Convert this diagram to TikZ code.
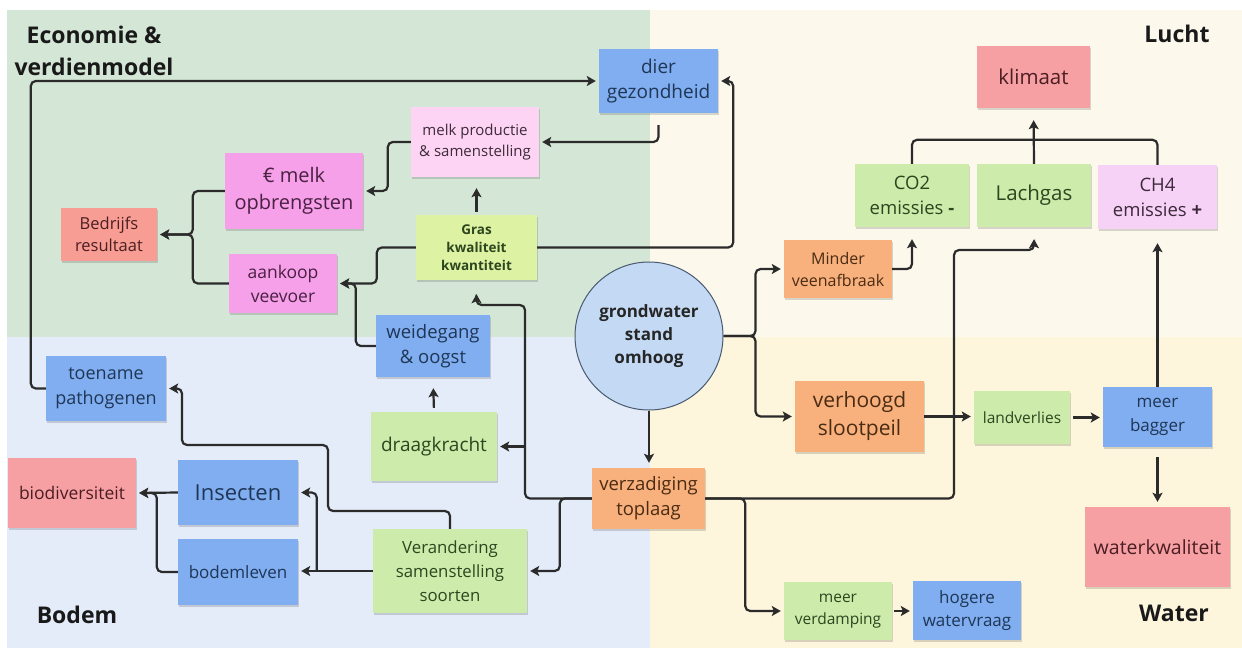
\documentclass[tikz,border=0pt]{standalone}
\usepackage{fontspec}
\setmainfont{Open Sans}
\usetikzlibrary{arrows.meta,shadows,calc}
\definecolor{bggreen}{HTML}{D4E7D6}
\definecolor{bgblue}{HTML}{E3ECF8}
\definecolor{bglucht}{HTML}{FCF9EC}
\definecolor{bgwater}{HTML}{FDF5DC}
\definecolor{cblue}{HTML}{80AEF0}
\definecolor{tblue}{HTML}{1F3656}
\definecolor{cgreen}{HTML}{CDEBAA}
\definecolor{cgras}{HTML}{DDF3A3}
\definecolor{tgreen}{HTML}{2E4620}
\definecolor{cpink}{HTML}{F5A0E8}
\definecolor{tpink}{HTML}{4A2043}
\definecolor{clpink}{HTML}{FDD4F3}
\definecolor{tlpink}{HTML}{3D2A3A}
\definecolor{cred}{HTML}{F7A0A4}
\definecolor{tred}{HTML}{4A1E22}
\definecolor{corange}{HTML}{F8B07C}
\definecolor{torange}{HTML}{4A2C14}
\definecolor{cpurple}{HTML}{F6D2F7}
\definecolor{ccircle}{HTML}{C4D9F4}
\definecolor{ccircled}{HTML}{4A5A70}
\definecolor{cline}{HTML}{2B2B2B}
\tikzset{
  nbox/.style={inner sep=0pt, align=center, drop shadow={shadow xshift=1pt, shadow yshift=-1.5pt, opacity=0.15, fill=black}},
  bluebox/.style={nbox, fill=cblue, text=tblue},
  greenbox/.style={nbox, fill=cgreen, text=tgreen},
  grasbox/.style={nbox, fill=cgras, text=tgreen, font=\bfseries\fontsize{13.5}{18}\selectfont},
  pinkbox/.style={nbox, fill=cpink, text=tpink},
  lpinkbox/.style={nbox, fill=clpink, text=tlpink},
  redbox/.style={nbox, fill=cred, text=tred},
  orangebox/.style={nbox, fill=corange, text=torange},
  purplebox/.style={nbox, fill=cpurple, text=tlpink},
  conn/.style={draw=cline, line width=2.2pt, rounded corners=5pt, -{Stealth[length=9pt,width=10pt,inset=2pt]}, shorten >=3pt},
  plain/.style={draw=cline, line width=2.2pt, rounded corners=5pt},
  title/.style={font=\bfseries\fontsize{23}{32}\selectfont, text=black!90, align=center}
}
\begin{document}
\begin{tikzpicture}[x=1pt,y=-1pt]
\useasboundingbox (0,0) rectangle (1242,648);
\fill[white] (0,0) rectangle (1242,648);
\fill[bggreen] (7,10) rectangle (650,337);
\fill[bgblue] (7,337) rectangle (650,648);
\fill[bglucht] (650,10) rectangle (1242,337);
\fill[bgwater] (650,337) rectangle (1242,648);

% titles
\node[title] (tEco) at (94,51) {Economie \&\\verdienmodel};
\node[title, anchor=base] (tLucht) at (1177,42) {Lucht};
\node[title, anchor=base] (tBodem) at (77,623) {Bodem};
\node[title, anchor=base] (tWater) at (1174,621) {Water};

% nodes
\node[bluebox, minimum width=119, minimum height=64, font=\fontsize{19}{25}\selectfont] (dier) at (658.5,81) {dier\\gezondheid};
\node[lpinkbox, minimum width=128, minimum height=70, font=\fontsize{15}{21}\selectfont] (melkprod) at (475,142) {melk productie\\\& samenstelling};
\node[pinkbox, minimum width=138, minimum height=76, font=\fontsize{20}{27}\selectfont] (eurmelk) at (294,191) {€ melk\\opbrengsten};
\node[redbox, fill=cred!90!orange, minimum width=96, minimum height=53, font=\fontsize{16.5}{22}\selectfont] (bedrijfs) at (109,234.5) {Bedrijfs\\resultaat};
\node[pinkbox, minimum width=108, minimum height=59, font=\fontsize{17.5}{24}\selectfont] (aankoop) at (283,283.5) {aankoop\\veevoer};
\node[grasbox, minimum width=121, minimum height=65] (gras) at (476.5,247.5) {Gras\\kwaliteit\\kwantiteit};
\node[bluebox, minimum width=114, minimum height=62, font=\fontsize{18.5}{25}\selectfont] (weidegang) at (433,346) {weidegang\\\& oogst};
\node[circle, draw=ccircled, line width=1pt, fill=ccircle, minimum size=148, inner sep=0pt, align=center, text=black!85, font=\bfseries\fontsize{17}{23}\selectfont] (grondwater) at (649,336) {grondwater\\stand\\omhoog};
\node[orangebox, minimum width=108, minimum height=58, font=\fontsize{16}{22}\selectfont] (minder) at (838,269) {Minder\\veenafbraak};
\node[orangebox, minimum width=129, minimum height=71, font=\fontsize{21}{28}\selectfont] (verhoogd) at (859.5,416.5) {verhoogd\\slootpeil};
\node[redbox, minimum width=113, minimum height=62, font=\fontsize{20.5}{27}\selectfont] (klimaat) at (1033.5,77) {klimaat};
\node[greenbox, minimum width=114, minimum height=63, font=\fontsize{18.5}{25}\selectfont] (co2) at (912,195.5) {CO2\\emissies \textbf{-}};
\node[greenbox, minimum width=114, minimum height=63, font=\fontsize{20.5}{27}\selectfont] (lachgas) at (1034,195.5) {Lachgas};
\node[purplebox, minimum width=119, minimum height=64, font=\fontsize{18.5}{25}\selectfont] (ch4) at (1157.5,197) {CH4\\emissies \textbf{+}};
\node[greenbox, minimum width=96, minimum height=53, font=\fontsize{15.5}{21}\selectfont] (landverlies) at (1022,417.5) {landverlies};
\node[bluebox, minimum width=109, minimum height=60, font=\fontsize{17}{24}\selectfont] (bagger) at (1157.5,417) {meer\\bagger};
\node[redbox, minimum width=145, minimum height=80, font=\fontsize{19.5}{26}\selectfont] (waterkw) at (1157.5,547) {waterkwaliteit};
\node[greenbox, minimum width=108, minimum height=58, font=\fontsize{15.5}{22}\selectfont] (verdamping) at (838,611) {meer\\verdamping};
\node[bluebox, minimum width=108, minimum height=59, font=\fontsize{17}{23}\selectfont] (hogere) at (967,610.5) {hogere\\watervraag};
\node[orangebox, minimum width=113, minimum height=61, font=\fontsize{18.5}{25}\selectfont] (verzadiging) at (648.5,498.5) {verzadiging\\toplaag};
\node[greenbox, minimum width=126, minimum height=69, font=\fontsize{19}{25}\selectfont] (draagkracht) at (434,446.5) {draagkracht};
\node[greenbox, minimum width=154, minimum height=84, font=\fontsize{16.8}{24}\selectfont] (verandering) at (450,571) {Verandering\\samenstelling\\soorten};
\node[bluebox, minimum width=120, minimum height=65, font=\fontsize{18}{25}\selectfont] (toename) at (106,388.5) {toename\\pathogenen};
\node[redbox, minimum width=128, minimum height=70, font=\fontsize{17.5}{24}\selectfont] (biodiv) at (72,493) {biodiversiteit};
\node[bluebox, minimum width=120, minimum height=65, font=\fontsize{22}{28}\selectfont] (insecten) at (238,492.5) {Insecten};
\node[bluebox, minimum width=120, minimum height=66, font=\fontsize{17}{23}\selectfont] (bodemleven) at (238,572) {bodemleven};

% connectors
\draw[conn] (toename.west) -- ++(-15,0) |- (dier.west);
\draw[conn] (gras.east) -| ([xshift=15pt]dier.east) -- (dier.east);
\draw[conn, shorten <=12pt] (dier.south) |- (melkprod.east);
\draw[conn] (melkprod.west) -- ++(-23,0) |- (eurmelk.east);
\draw[conn, shorten <=3pt, shorten >=11pt] (gras.north) -- (gras.north |- melkprod.south);
\draw[conn] (eurmelk.west) -- ++(-32,0) |- (bedrijfs.east);
\draw[conn] (aankoop.west) -- ++(-36,0) |- (bedrijfs.east);
\draw[conn] (gras.west) -- ++(-39,0) |- (aankoop.east);
\draw[conn] (weidegang.west) -- ++(-20,0) |- (aankoop.east);
\draw[conn, shorten <=4pt, shorten >=11pt] (draagkracht.north) -- (weidegang.south);
\coordinate (v1) at (525,305);
\draw[conn, shorten >=14pt] (verzadiging.west) -| (v1) -| (gras.south);
\draw[conn] (v1 |- draagkracht.east) -- (draagkracht.east);
\draw[conn] (verzadiging.west) -- ++(-32,0) |- (verandering.east);
\draw[conn] (verandering.north) |- (328,511) |- (182,445) |- (toename.east);
\draw[conn] (verandering.west) -- (verandering.west -| bodemleven.east);
\draw[conn] ([xshift=-56pt]verandering.west) |- (insecten.east);
\draw[conn] (insecten.west) -- (biodiv.east);
\draw[conn] (bodemleven.west) -- ++(-21,0) |- (biodiv.east);
\draw[conn] (grondwater.east) -- ++(32,0) |- (minder.west);
\draw[conn] (grondwater.east) -- ++(32,0) |- (verhoogd.west);
\draw[conn, shorten >=12pt] (minder.east) -| (co2.south);
\draw[conn, shorten >=5pt] (grondwater.south) -- (grondwater.south |- verzadiging.north);
\draw[conn, shorten >=12pt] (verzadiging.east) -| (954,250) -| (lachgas.south);
\draw[conn] (verhoogd.east) -- (verhoogd.east -| landverlies.west);
\draw[conn, shorten <=3pt] (landverlies.east) -- (landverlies.east -| bagger.west);
\draw[conn, shorten >=14pt] (bagger.north) -- (ch4.south);
\draw[conn, shorten <=10pt, shorten >=5pt] (bagger.south) -- (waterkw.north);
\draw[conn] (verzadiging.east) -- ++(40,0) |- (verdamping.west);
\draw[conn, shorten <=2pt] (verdamping.east) -- (verdamping.east -| hogere.west);
\draw[plain] (co2.north) -- ++(0,-24) -| (ch4.north);
\draw[conn, shorten >=12pt] (lachgas.north) -- (klimaat.south);
\end{tikzpicture}
\end{document}
